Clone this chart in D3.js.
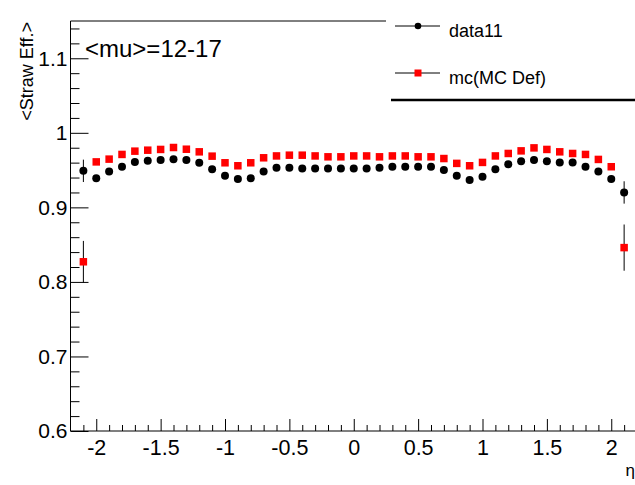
<!DOCTYPE html>
<html><head><meta charset="utf-8">
<script src="https://cdn.jsdelivr.net/npm/d3@7"></script>
<style>
html,body{margin:0;padding:0;background:#fff;}
svg{display:block;font-family:"Liberation Sans",Arial,Helvetica,sans-serif;}
</style></head>
<body>
<svg id="c" width="635" height="485"></svg>
<script>
const eta = [-2.1,-2.0,-1.9,-1.8,-1.7,-1.6,-1.5,-1.4,-1.3,-1.2,-1.1,-1.0,-0.9,-0.8,-0.7,-0.6,-0.5,-0.4,-0.3,-0.2,-0.1,0.0,
             0.1,0.2,0.3,0.4,0.5,0.6,0.7,0.8,0.9,1.0,1.1,1.2,1.3,1.4,1.5,1.6,1.7,1.8,1.9,2.0,2.1];
const data11 = [0.949,0.939,0.948,0.9545,0.961,0.9625,0.9635,0.9645,0.9635,0.960,0.951,0.9425,0.938,0.939,0.948,0.953,0.953,0.952,0.952,0.952,0.952,0.952,
                0.952,0.953,0.9545,0.9545,0.9545,0.9545,0.950,0.9425,0.9367,0.9412,0.951,0.958,0.962,0.9635,0.962,0.9603,0.9603,0.9545,0.948,0.938,0.920];
const data11Err = [0.015,0.002,0.002,0.002,0.002,0.002,0.002,0.002,0.002,0.002,0.002,0.002,0.002,0.002,0.002,0.002,0.002,0.002,0.002,0.002,0.002,0.002,
                   0.002,0.002,0.002,0.002,0.002,0.002,0.002,0.002,0.002,0.002,0.002,0.002,0.002,0.002,0.002,0.002,0.002,0.002,0.002,0.002,0.015];
const mc = [0.827,0.961,0.9647,0.971,0.9754,0.9767,0.9777,0.9803,0.978,0.9745,0.9687,0.9598,0.9558,0.9598,0.9665,0.969,0.970,0.970,0.969,0.9678,0.9678,0.969,
            0.969,0.9678,0.969,0.969,0.9678,0.9678,0.9655,0.959,0.9558,0.9603,0.969,0.9723,0.9758,0.9798,0.9777,0.9745,0.9723,0.971,0.9643,0.9545,0.846];
const mcErr = [0.028,0.002,0.002,0.002,0.002,0.002,0.002,0.002,0.002,0.002,0.002,0.002,0.002,0.002,0.002,0.002,0.002,0.002,0.002,0.002,0.002,0.002,
               0.002,0.002,0.002,0.002,0.002,0.002,0.002,0.002,0.002,0.002,0.002,0.002,0.002,0.002,0.002,0.002,0.002,0.002,0.002,0.002,0.031];
const xMajor = [-2,-1.5,-1,-0.5,0,0.5,1,1.5,2];
const xMinor = [-2.1,-1.9,-1.8,-1.7,-1.6,-1.4,-1.3,-1.2,-1.1,-0.9,-0.8,-0.7,-0.6,-0.4,-0.3,-0.2,-0.1,
                0.1,0.2,0.3,0.4,0.6,0.7,0.8,0.9,1.1,1.2,1.3,1.4,1.6,1.7,1.8,1.9,2.1];
const yMajor = [0.6,0.7,0.8,0.9,1.0,1.1];
const yMinor = [0.62,0.64,0.66,0.68,0.72,0.74,0.76,0.78,0.82,0.84,0.86,0.88,0.92,0.94,0.96,0.98,
                1.02,1.04,1.06,1.08,1.12,1.14];
const legendLabels = ["data11","mc(MC Def)"];

const svg = d3.select("#c");
const x = d3.scaleLinear().domain([-2.2,2.2]).range([70.5,637]);
const y = d3.scaleLinear().domain([0.6,1.15]).range([431,21]);
const FONT = "Liberation Sans, Arial, Helvetica, sans-serif";

// frame lines
svg.append("line").attr("x1",x(-2.2)).attr("x2",x(2.2)).attr("y1",y(1.15)).attr("y2",y(1.15)).attr("stroke","#000").attr("stroke-width",1);

// x axis
const gx = svg.append("g").attr("transform",`translate(0,${y(0.6)})`);
gx.call(d3.axisBottom(x).tickValues(xMajor).tickSize(-12).tickSizeOuter(0).tickFormat(d=>String(d)));
gx.select(".domain").remove();
gx.selectAll("text").attr("y",24).attr("dy",0).style("font-size","21.5px").style("font-family",FONT).attr("fill","#000");
const gx2 = svg.append("g").attr("transform",`translate(0,${y(0.6)})`);
gx2.call(d3.axisBottom(x).tickValues(xMinor).tickSize(-6).tickSizeOuter(0).tickFormat(""));
gx2.select(".domain").remove();
svg.append("line").attr("x1",x(-2.2)).attr("x2",x(2.2)).attr("y1",y(0.6)).attr("y2",y(0.6)).attr("stroke","#000");

// y axis
const gy = svg.append("g").attr("transform",`translate(${x(-2.2)},0)`);
gy.call(d3.axisLeft(y).tickValues(yMajor).tickSize(-18).tickSizeOuter(0).tickFormat(d=>String(d)));
gy.select(".domain").remove();
gy.selectAll("text").attr("x",-3).style("font-size","21px").style("font-family",FONT).attr("fill","#000");
const gy2 = svg.append("g").attr("transform",`translate(${x(-2.2)},0)`);
gy2.call(d3.axisLeft(y).tickValues(yMinor).tickSize(-9).tickSizeOuter(0).tickFormat(""));
gy2.select(".domain").remove();
svg.append("line").attr("x1",x(-2.2)).attr("x2",x(-2.2)).attr("y1",y(0.6)).attr("y2",y(1.15)).attr("stroke","#000");

// axis titles
svg.append("text").attr("transform",`translate(33,22) rotate(-90)`).attr("text-anchor","end")
  .style("font-size","18px").style("font-family",FONT).text("<Straw Eff.>");
svg.append("text").attr("x",635).attr("y",476).attr("text-anchor","end")
  .style("font-size","17px").style("font-family",FONT).text("η");

// error bars + markers
function series(vals, errs, kind){
  const g = svg.append("g");
  g.selectAll("line").data(eta).join("line")
    .attr("x1",d=>x(d)).attr("x2",d=>x(d))
    .attr("y1",(d,i)=>y(vals[i]-errs[i])).attr("y2",(d,i)=>y(vals[i]+errs[i]))
    .attr("stroke","#000").attr("stroke-width",1);
  if(kind==="circle"){
    g.selectAll("circle").data(eta).join("circle")
      .attr("cx",d=>x(d)).attr("cy",(d,i)=>y(vals[i])).attr("r",4).attr("fill","#000");
  } else {
    const s=7.5;
    g.selectAll("rect").data(eta).join("rect")
      .attr("x",d=>x(d)-s/2).attr("y",(d,i)=>y(vals[i])-s/2).attr("width",s).attr("height",s).attr("fill","#ff0000");
  }
}
series(mc, mcErr, "square");
series(data11, data11Err, "circle");

// text label
svg.append("text").attr("x",85).attr("y",57).style("font-size","24px").style("font-family",FONT).text("<mu>=12-17");

// legend
svg.append("rect").attr("x",386).attr("y",0).attr("width",249).attr("height",99).attr("fill","#fff");
svg.append("line").attr("x1",391).attr("x2",635).attr("y1",100).attr("y2",100).attr("stroke","#000").attr("stroke-width",2.5);
const legY = [26,73];
const lg = svg.append("g");
lg.selectAll("line").data(legendLabels).join("line")
  .attr("x1",395).attr("x2",440).attr("y1",(d,i)=>legY[i]).attr("y2",(d,i)=>legY[i]).attr("stroke","#000").attr("stroke-width",1);
lg.append("circle").attr("cx",418).attr("cy",legY[0]).attr("r",3.3).attr("fill","#000");
lg.append("rect").attr("x",418-3.5).attr("y",legY[1]-3.5).attr("width",7).attr("height",7).attr("fill","#ff0000");
lg.selectAll("text").data(legendLabels).join("text")
  .attr("x",449).attr("y",(d,i)=>legY[i]+10.5)
  .style("font-size","18px").style("font-family",FONT).text(d=>d);
</script>
</body></html>
